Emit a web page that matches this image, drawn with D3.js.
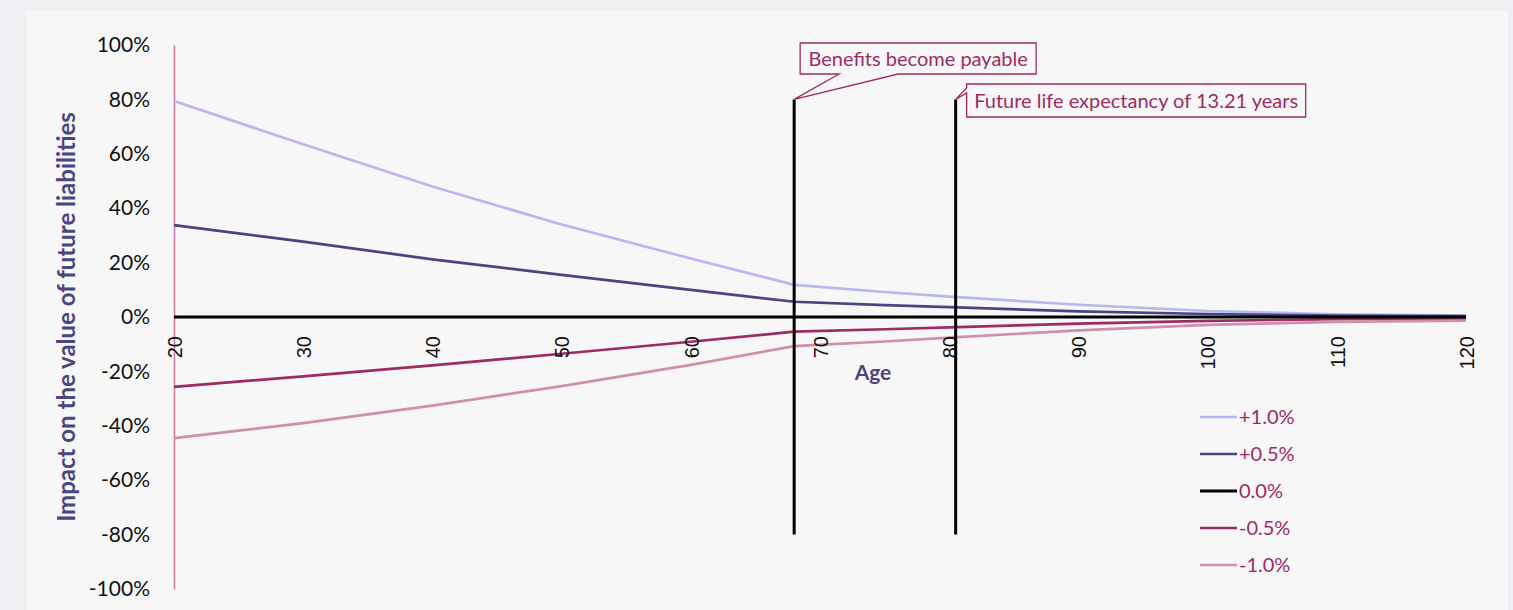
<!DOCTYPE html>
<html>
<head>
<meta charset="utf-8">
<script src="https://cdn.jsdelivr.net/npm/d3@7"></script>
<style>
  html, body { margin: 0; padding: 0; background: #eeeef3; }
  svg { display: block; }
</style>
</head>
<body>
<svg id="chart" width="1513" height="610"></svg>
<script>
// Ages on the horizontal axis (years)
const ages = [20, 30, 40, 50, 60, 68, 75, 80, 90, 100, 110, 120];

// Impact on the value of future liabilities (%) for each change in the discount rate
const seriesNames = ["+1.0%", "+0.5%", "0.0%", "-0.5%", "-1.0%"];
const plus10  = [79.4, 63.5, 48.0, 34.0, 21.5, 11.8, 9.2, 7.5, 4.5, 2.2, 1.0, 0.5];
const plus05  = [33.8, 27.7, 21.2, 15.5, 10.0, 5.6, 4.4, 3.6, 2.1, 1.1, 0.5, 0.3];
const zero    = [0, 0, 0, 0, 0, 0, 0, 0, 0, 0, 0, 0];
const minus05 = [-25.7, -21.8, -17.8, -13.5, -9.1, -5.4, -4.5, -3.8, -2.4, -1.4, -0.8, -0.6];
const minus10 = [-44.5, -39.0, -32.6, -25.4, -17.6, -10.7, -9.0, -7.6, -4.9, -2.9, -1.8, -1.3];
const seriesColors = ["#b4b9ee", "#4a4580", "#000000", "#9c2c63", "#cf8fad"];

// Axis ticks
const xTicks = [20, 30, 40, 50, 60, 70, 80, 90, 100, 110, 120];
const yTicks = [-100, -80, -60, -40, -20, 0, 20, 40, 60, 80, 100];

// Reference lines: age benefits start and end of life expectancy
const markerAges = [68, 80.5];
const markerLabels = ["Benefits become payable", "Future life expectancy of 13.21 years"];
const markerRange = [-80, 80];

const svg = d3.select("#chart");
const accent = "#9c2c63";
const titleColor = "#4b4580";

// chart panel
svg.append("rect")
  .attr("x", 26).attr("y", 10)
  .attr("width", 1482).attr("height", 610)
  .attr("fill", "#f7f7f7");

const x = d3.scaleLinear().domain([20, 120]).range([174, 1466]);
const y = d3.scaleLinear().domain([-100, 100]).range([589, 45]);

// y axis
const yAxis = svg.append("g")
  .attr("transform", `translate(${x(20)},0)`)
  .call(d3.axisLeft(y).tickValues(yTicks).tickSize(0).tickPadding(24)
    .tickFormat(d => d + "%"));
yAxis.select(".domain").attr("stroke", "#c97fa6").attr("stroke-width", 1.6);
yAxis.selectAll("text")
  .attr("font-family", "Lato, 'Open Sans', sans-serif")
  .attr("font-size", 21)
  .attr("fill", "#111");

// series lines
const seriesData = [plus10, plus05, zero, minus05, minus10];
const line = d3.line().x((d, i) => x(ages[i])).y(d => y(d));
const order = [0, 1, 3, 4, 2];
order.forEach(k => {
  svg.append("path")
    .datum(seriesData[k])
    .attr("fill", "none")
    .attr("stroke", seriesColors[k])
    .attr("stroke-width", k === 2 ? 3 : 2.7)
    .attr("stroke-linejoin", "round")
    .attr("d", line);
});

// x axis labels (rotated)
const xAxis = svg.append("g")
  .attr("transform", `translate(0,${y(0)})`)
  .call(d3.axisBottom(x).tickValues(xTicks).tickSize(0).tickFormat(d3.format("d")));
xAxis.select(".domain").remove();
xAxis.selectAll("text")
  .attr("transform", "rotate(-90)")
  .attr("x", -19)
  .attr("y", 0)
  .attr("dy", "0.36em")
  .attr("text-anchor", "end")
  .attr("font-family", "'Liberation Sans', Arial, sans-serif")
  .attr("font-size", 20)
  .attr("fill", "#111");

// reference lines
svg.selectAll(".marker")
  .data(markerAges)
  .join("line")
  .attr("class", "marker")
  .attr("x1", d => x(d)).attr("x2", d => x(d))
  .attr("y1", y(markerRange[1])).attr("y2", y(markerRange[0]))
  .attr("stroke", "#000")
  .attr("stroke-width", 3);

// callouts
function callout(tipX, tipY, box, wedge, label) {
  const g = svg.append("g");
  const [bx, by, bw, bh] = box;
  let p;
  if (wedge.side === "bottom") {
    p = `M${bx},${by}H${bx + bw}V${by + bh}H${wedge.b}L${tipX},${tipY}L${wedge.a},${by + bh}H${bx}Z`;
  } else {
    p = `M${bx},${by}H${bx + bw}V${by + bh}H${bx}V${wedge.b}L${tipX},${tipY}L${bx},${wedge.a}Z`;
  }
  g.append("path")
    .attr("d", p)
    .attr("fill", "#f7f7f7")
    .attr("stroke", accent)
    .attr("stroke-width", 1.3);
  g.append("text")
    .attr("x", bx + bw / 2)
    .attr("y", by + bh / 2)
    .attr("dy", "0.35em")
    .attr("text-anchor", "middle")
    .attr("font-family", "Lato, 'Open Sans', sans-serif")
    .attr("font-size", 20)
    .attr("fill", accent)
    .text(label);
}
const t1x = x(markerAges[0]), t2x = x(markerAges[1]), tY = y(markerRange[1]);
callout(t1x, tY, [t1x + 6, 43, 236, 31], { side: "bottom", a: t1x + 45, b: t1x + 104 }, markerLabels[0]);
callout(t2x, tY, [t2x + 11, 84, 339, 33], { side: "left", a: 88, b: 93 }, markerLabels[1]);

// axis titles
svg.append("text")
  .attr("transform", `translate(75,${y(0)}) rotate(-90)`)
  .attr("text-anchor", "middle")
  .attr("font-family", "Lato, 'Open Sans', sans-serif")
  .attr("font-weight", "bold")
  .attr("font-size", 24)
  .attr("fill", titleColor)
  .text("Impact on the value of future liabilities");

svg.append("text")
  .attr("x", 873)
  .attr("y", 380)
  .attr("text-anchor", "middle")
  .attr("font-family", "Lato, 'Open Sans', sans-serif")
  .attr("font-weight", "bold")
  .attr("font-size", 21)
  .attr("fill", titleColor)
  .text("Age");

// legend
const legend = svg.append("g").attr("transform", "translate(1200,417)");
seriesNames.forEach((name, i) => {
  const row = legend.append("g").attr("transform", `translate(0,${i * 37})`);
  row.append("line")
    .attr("x1", 0).attr("x2", 37)
    .attr("stroke", seriesColors[i])
    .attr("stroke-width", i === 2 ? 3 : 2.7);
  row.append("text")
    .attr("x", 39)
    .attr("dy", "0.35em")
    .attr("font-family", "Lato, 'Open Sans', sans-serif")
    .attr("font-size", 20)
    .attr("fill", accent)
    .text(name);
});
</script>
</body>
</html>
